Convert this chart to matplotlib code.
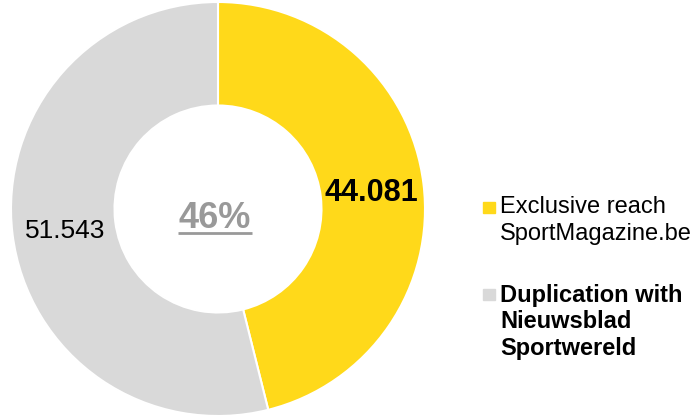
import numpy as np
import matplotlib.pyplot as plt

plt.rcParams['font.family'] = ['Liberation Sans', 'DejaVu Sans']

labels = ["Exclusive reach\nSportMagazine.be", "Duplication with\nNieuwsblad\nSportwereld"]
values = [44.081, 51.543]
value_labels = ["44.081", "51.543"]
colors = ["#FFD91A", "#D9D9D9"]
center_label = "46%"

W, H = 696, 418
fig = plt.figure(figsize=(W / 100, H / 100), dpi=100)
ax = fig.add_axes([11 / W, 2 / H, 414 / W, 414 / H])

wedges, _ = ax.pie(values, colors=colors, startangle=90, counterclock=False,
                   radius=1.0, wedgeprops=dict(width=0.5, edgecolor="white", linewidth=1.5))
ax.set_xlim(-1, 1)
ax.set_ylim(-1, 1)
ax.set_aspect("equal")
ax.axis("off")

# value labels inside the ring
for w, txt, bold, size in zip(wedges, value_labels, [True, False], [22, 19]):
    ang = np.deg2rad((w.theta1 + w.theta2) / 2)
    ax.text(0.745 * np.cos(ang), 0.745 * np.sin(ang) - 0.015, txt, ha="center", va="center",
            fontsize=size, fontweight="bold" if bold else "normal", color="black")

# centre percentage, underlined
ax.text(-0.014, -0.092, center_label, ha="center", va="baseline", fontsize=26,
        fontweight="bold", color="#999999")
ax.plot([-0.193, 0.164], [-0.116, -0.116], color="#999999", lw=2, solid_capstyle="butt")

# legend
squares_y = [213, 300]
baselines = [[213, 240], [302, 328, 355]]
for lab, col, sy, bl, bold in zip(labels, colors, squares_y, baselines, [False, True]):
    fig.patches.append(plt.Rectangle((483 / W, 1 - sy / H), 12 / W, 11 / H,
                                     transform=fig.transFigure, color=col))
    for line, y in zip(lab.split("\n"), bl):
        fig.text(500 / W, 1 - y / H, line, ha="left", va="baseline", fontsize=17,
                 fontweight="bold" if bold else "normal")

fig.savefig("out.png", dpi=100)
